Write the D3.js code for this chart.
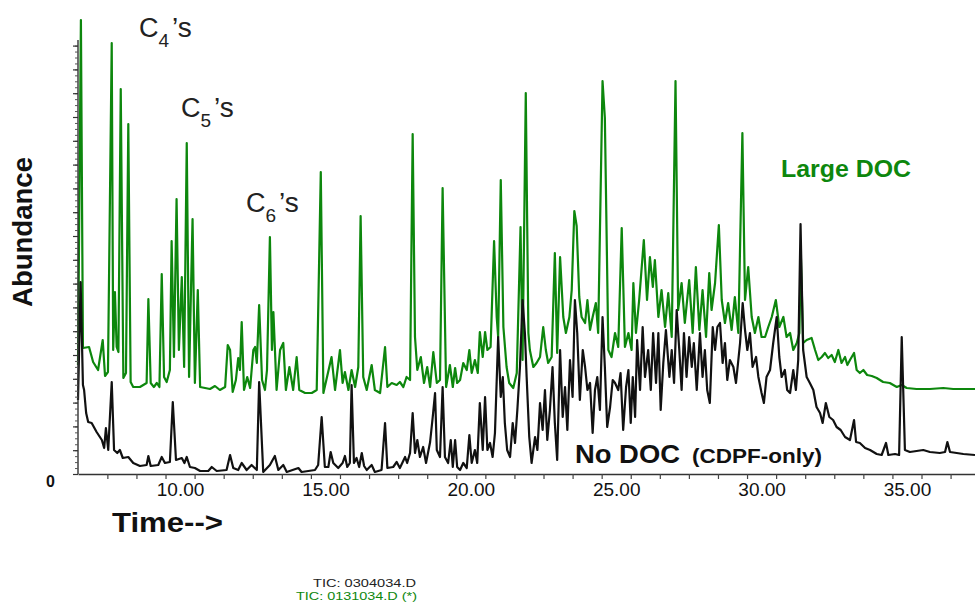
<!DOCTYPE html>
<html>
<head>
<meta charset="utf-8">
<script src="https://cdn.jsdelivr.net/npm/d3@7"></script>
<style>
  body { margin: 0; background: #fff; }
  svg { display: block; font-family: "Liberation Sans", Arial, sans-serif; }
</style>
</head>
<body>
<svg id="chart" width="975" height="604"></svg>
<script>
// [retention time (min), abundance (relative; one big tick on the y axis = 23.8)]
const largeDoc = [
  [6.49,109],[6.59,454],[6.66,126],[6.87,127],[7.01,112],[7.18,104],[7.34,134],[7.42,98],[7.52,102],
  [7.65,431],[7.70,124],[7.76,182],[7.82,127],[7.88,122],[7.96,385],[8.05,96],[8.14,101],[8.22,350],
  [8.30,92],[8.39,87],[8.62,87],[8.85,91],[8.91,175],[8.99,91],[9.10,87],[9.20,91],[9.29,87],[9.37,200],
  [9.45,97],[9.54,92],[9.65,104],[9.71,233],[9.79,117],[9.88,275],[9.96,124],[10.06,197],[10.14,107],
  [10.23,331],[10.31,97],[10.43,255],[10.51,91],[10.61,184],[10.69,87],[11.03,85],[11.20,88],[11.37,84],
  [11.55,87],[11.64,129],[11.72,124],[11.81,82],[11.92,94],[12.00,116],[12.06,104],[12.12,152],[12.20,84],
  [12.31,97],[12.41,86],[12.52,124],[12.58,127],[12.64,111],[12.72,169],[12.82,94],[12.92,84],[12.99,104],
  [13.09,237],[13.16,124],[13.21,162],[13.32,84],[13.44,124],[13.55,131],[13.64,84],[13.76,107],[13.89,84],
  [14.01,117],[14.10,84],[14.30,81],[14.53,81],[14.70,84],[14.84,302],[14.93,81],[15.21,117],[15.33,84],
  [15.50,124],[15.59,91],[15.67,102],[15.79,84],[15.90,104],[16.02,87],[16.13,107],[16.21,258],[16.30,97],
  [16.42,84],[16.59,109],[16.70,84],[16.88,81],[17.05,127],[17.13,87],[17.28,91],[17.45,89],[17.56,92],
  [17.68,87],[17.79,97],[17.91,94],[18.00,340],[18.08,137],[18.16,104],[18.28,117],[18.39,91],[18.50,107],
  [18.60,87],[18.71,122],[18.83,91],[18.94,94],[19.03,286],[19.15,87],[19.28,109],[19.38,87],[19.46,106],
  [19.53,91],[19.63,94],[19.74,111],[19.86,104],[19.95,124],[20.03,101],[20.14,114],[20.24,101],[20.31,142],
  [20.41,117],[20.49,142],[20.57,124],[20.68,127],[20.80,233],[20.89,157],[20.94,137],[21.03,294],[21.12,147],
  [21.23,107],[21.32,91],[21.46,86],[21.58,101],[21.71,247],[21.78,114],[21.89,381],[21.98,141],[22.03,124],
  [22.15,107],[22.26,111],[22.38,117],[22.49,147],[22.58,124],[22.66,111],[22.78,117],[22.89,221],[22.97,121],
  [23.07,217],[23.18,157],[23.27,141],[23.39,157],[23.47,184],[23.56,263],[23.64,248],[23.73,177],[23.81,157],
  [23.93,151],[24.01,174],[24.10,144],[24.19,157],[24.30,171],[24.38,141],[24.53,393],[24.61,356],[24.73,124],
  [24.84,117],[24.96,141],[25.07,127],[25.19,246],[25.30,127],[25.42,141],[25.53,124],[25.59,191],[25.68,141],
  [25.79,174],[25.95,234],[26.06,174],[26.16,217],[26.26,187],[26.33,214],[26.45,157],[26.56,184],[26.68,147],
  [26.79,181],[26.91,137],[27.04,393],[27.13,164],[27.25,191],[27.36,151],[27.51,194],[27.63,141],[27.74,207],
  [27.86,144],[27.97,184],[28.09,137],[28.20,201],[28.28,164],[28.40,191],[28.53,249],[28.63,174],[28.74,151],
  [28.85,171],[28.97,144],[29.08,177],[29.20,141],[29.34,341],[29.43,174],[29.54,207],[29.66,157],[29.77,141],
  [29.89,157],[30.00,137],[30.12,137],[30.23,147],[30.35,157],[30.49,174],[30.61,147],[30.75,157],[30.86,137],
  [30.98,141],[31.09,124],[31.21,131],[31.30,141],[31.35,219],[31.43,131],[31.55,134],[31.72,136],[31.84,124],
  [31.95,114],[32.07,117],[32.18,121],[32.29,116],[32.41,119],[32.52,112],[32.64,124],[32.75,111],[32.87,117],
  [32.95,109],[33.04,114],[33.18,121],[33.27,104],[33.38,101],[33.50,104],[33.63,99],[33.79,98],[33.96,96],
  [34.18,92],[34.41,91],[34.65,87],[34.82,89],[34.99,86],[35.33,85],[35.79,85],[36.25,86],[36.59,85],[37.34,85]
];

const noDoc = [
  [6.49,74],[6.58,192],[6.66,89],[6.70,84],[6.77,61],[6.84,52],[6.96,51],[7.13,42],[7.31,34],[7.39,26],
  [7.45,46],[7.53,24],[7.65,92],[7.73,24],[7.84,21],[7.93,24],[8.03,16],[8.22,17],[8.39,11],[8.62,8],
  [8.85,9],[8.91,18],[8.99,8],[9.25,9],[9.37,17],[9.48,11],[9.65,12],[9.75,72],[9.86,14],[10.06,16],
  [10.15,11],[10.23,17],[10.34,7],[10.51,6],[10.69,3],[10.97,3],[11.09,7],[11.26,3],[11.60,4],[11.72,19],
  [11.83,6],[12.00,4],[12.12,11],[12.29,4],[12.46,9],[12.64,4],[12.72,92],[12.86,2],[13.09,9],[13.26,18],
  [13.38,4],[13.55,9],[13.67,2],[14.07,6],[14.18,2],[14.64,4],[14.75,9],[14.87,57],[14.98,7],[15.10,7],
  [15.18,22],[15.27,11],[15.44,6],[15.59,11],[15.67,18],[15.75,7],[15.84,11],[15.90,89],[15.98,11],[16.07,16],
  [16.16,7],[16.25,21],[16.33,8],[16.42,4],[16.59,9],[16.70,2],[16.93,4],[17.05,51],[17.13,6],[17.33,7],
  [17.45,12],[17.56,6],[17.74,17],[17.81,11],[17.91,21],[18.00,61],[18.08,21],[18.16,34],[18.25,17],[18.36,27],
  [18.46,11],[18.60,32],[18.69,57],[18.77,81],[18.83,24],[18.94,17],[19.03,87],[19.11,17],[19.22,11],[19.31,34],
  [19.38,7],[19.46,34],[19.53,7],[19.63,4],[19.74,11],[19.86,6],[19.95,39],[20.03,11],[20.14,24],[20.22,11],
  [20.31,71],[20.41,24],[20.49,77],[20.57,24],[20.66,31],[20.75,17],[20.83,41],[20.94,137],[21.03,77],[21.10,97],
  [21.17,51],[21.25,24],[21.35,17],[21.44,51],[21.52,31],[21.60,64],[21.69,107],[21.78,174],[21.86,141],[21.92,97],
  [22.01,37],[22.09,11],[22.21,37],[22.29,24],[22.38,71],[22.47,44],[22.55,84],[22.63,34],[22.72,64],[22.81,107],
  [22.89,51],[22.97,14],[23.07,124],[23.16,57],[23.24,87],[23.32,44],[23.41,114],[23.50,77],[23.58,174],[23.66,141],
  [23.75,74],[23.85,124],[23.93,107],[24.01,84],[24.10,91],[24.19,41],[24.27,84],[24.35,97],[24.44,64],[24.53,157],
  [24.61,107],[24.69,47],[24.79,67],[24.88,94],[24.96,91],[25.07,84],[25.15,101],[25.24,44],[25.34,87],[25.42,104],
  [25.50,51],[25.57,97],[25.65,57],[25.72,134],[25.82,84],[25.91,147],[25.99,97],[26.10,124],[26.19,84],[26.27,141],
  [26.37,91],[26.45,141],[26.53,64],[26.62,111],[26.71,144],[26.83,97],[26.91,124],[26.99,91],[27.08,164],[27.17,124],
  [27.25,84],[27.33,141],[27.42,97],[27.51,137],[27.60,107],[27.67,131],[27.77,84],[27.88,141],[27.97,97],[28.05,124],
  [28.13,84],[28.22,71],[28.32,147],[28.40,124],[28.48,147],[28.57,151],[28.66,111],[28.74,131],[28.82,94],[28.91,114],
  [29.03,107],[29.12,91],[29.26,131],[29.35,171],[29.43,144],[29.51,124],[29.60,141],[29.69,107],[29.81,117],[29.89,97],
  [30.00,81],[30.08,71],[30.17,97],[30.29,104],[30.40,131],[30.52,157],[30.61,117],[30.69,97],[30.80,104],[30.88,84],
  [30.98,81],[31.09,104],[31.18,84],[31.26,114],[31.34,250],[31.43,124],[31.55,97],[31.66,91],[31.78,84],[31.89,67],
  [32.01,61],[32.10,51],[32.21,71],[32.33,57],[32.46,54],[32.58,47],[32.72,44],[32.87,37],[33.04,34],[33.18,54],
  [33.25,32],[33.38,31],[33.56,26],[33.73,24],[33.96,20],[34.13,19],[34.28,31],[34.36,19],[34.59,20],[34.73,19],
  [34.82,137],[34.93,24],[35.10,22],[35.33,23],[35.56,24],[35.79,22],[36.13,21],[36.31,22],[36.39,32],[36.48,22],
  [36.71,21],[36.94,20],[37.34,19]
];

const timeLabels = [10, 15, 20, 25, 30, 35];
const timeTicks = d3.range(7.5, 37.01, 1);
const yMajorTicks = d3.range(0, 430, 23.8);
const yMinorTicks = d3.range(0, 434, 5.95);
const fileNames = ["TIC: 0304034.D", "TIC: 0131034.D (*)"];

const green = "#0d870d";
const svg = d3.select("#chart");
svg.append("rect").attr("width", 975).attr("height", 604).attr("fill", "#fff");

const x = d3.scaleLinear().domain([6.49, 37.34]).range([78, 975]);
const y = d3.scaleLinear().domain([0, 460]).range([474, 14]);

const line = d3.line().x(d => x(d[0])).y(d => y(d[1]));

svg.append("path").datum(largeDoc).attr("d", line)
  .attr("fill", "none").attr("stroke", green).attr("stroke-width", 2.2).attr("stroke-linejoin", "round");
svg.append("path").datum(noDoc).attr("d", line)
  .attr("fill", "none").attr("stroke", "#111").attr("stroke-width", 2.2).attr("stroke-linejoin", "round");

// x axis: small ticks every minute, labels on their own
const gx = svg.append("g").attr("transform", "translate(0," + y(0) + ")");
gx.call(d3.axisBottom(x).tickValues(timeTicks).tickSize(5).tickSizeOuter(0).tickFormat(""));
gx.select(".domain").attr("stroke", "#333").attr("stroke-width", 1.6);
gx.selectAll(".tick line").attr("stroke", "#444").attr("stroke-width", 1.2);

const gxl = svg.append("g").attr("transform", "translate(0," + y(0) + ")");
gxl.call(d3.axisBottom(x).tickValues(timeLabels).tickSize(0).tickPadding(9).tickFormat(d3.format(".2f")));
gxl.select(".domain").remove();
gxl.selectAll("text").style("font-size", "19px").style("font-family", "'Liberation Sans', Arial, sans-serif").attr("fill", "#111");

// y axis
const gy = svg.append("g").attr("transform", "translate(" + x.range()[0] + ",0)");
gy.call(d3.axisLeft(y).tickValues(yMinorTicks).tickSize(3).tickSizeOuter(0).tickFormat(""));
gy.select(".domain").attr("d", "M0," + y(0) + "V" + y(434)).attr("stroke", "#333").attr("stroke-width", 1.4);
gy.selectAll(".tick line").attr("stroke", "#555").attr("stroke-width", 1);

const gyM = svg.append("g").attr("transform", "translate(" + x.range()[0] + ",0)");
gyM.call(d3.axisLeft(y).tickValues(yMajorTicks).tickSize(5).tickFormat(""));
gyM.select(".domain").remove();
gyM.selectAll(".tick line").attr("stroke", "#333").attr("stroke-width", 1.2);

const gy0 = svg.append("g").attr("transform", "translate(" + x.range()[0] + ",0)");
gy0.call(d3.axisLeft(y).tickValues([0]).tickSize(0).tickPadding(23));
gy0.select(".domain").remove();
gy0.selectAll("text").attr("dy", "0.75em").style("font-size", "16px").style("font-weight", "bold")
  .style("font-family", "'Liberation Sans', Arial, sans-serif").attr("fill", "#111");

// axis titles
svg.append("text").attr("transform", "translate(32,232) rotate(-90)")
  .attr("text-anchor", "middle").style("font-size", "28px").style("font-weight", "bold").attr("fill", "#111")
  .attr("textLength", 150).attr("lengthAdjust", "spacingAndGlyphs").text("Abundance");
svg.append("text").attr("x", 112).attr("y", 532)
  .style("font-size", "27px").style("font-weight", "bold").attr("fill", "#111")
  .attr("textLength", 111).attr("lengthAdjust", "spacingAndGlyphs").text("Time-->");

// carbon number labels
function carbonLabel(px, py, n) {
  const t = svg.append("text").attr("x", px).attr("y", py).attr("fill", "#222").style("font-size", "27px");
  t.append("tspan").text("C");
  t.append("tspan").attr("dy", 10).style("font-size", "19px").text(n);
  t.append("tspan").attr("x", px + 33).attr("dy", -10).style("font-size", "28px").text("\u2019s");
}
carbonLabel(139, 37, "4");
carbonLabel(181, 117, "5");
carbonLabel(246, 212, "6");

// series labels
svg.append("text").attr("x", 781).attr("y", 177).attr("fill", green)
  .style("font-size", "24px").style("font-weight", "bold")
  .attr("textLength", 130).attr("lengthAdjust", "spacingAndGlyphs").text("Large DOC");
svg.append("text").attr("x", 575).attr("y", 463).attr("fill", "#111")
  .style("font-size", "26px").style("font-weight", "bold")
  .attr("textLength", 105).attr("lengthAdjust", "spacingAndGlyphs").text("No DOC");
svg.append("text").attr("x", 692).attr("y", 463).attr("fill", "#111")
  .style("font-size", "21px").style("font-weight", "bold")
  .attr("textLength", 130).attr("lengthAdjust", "spacingAndGlyphs").text("(CDPF-only)");

// file names under the plot
svg.append("text").attr("x", 416).attr("y", 587).attr("text-anchor", "end").attr("fill", "#222")
  .style("font-size", "11px").attr("textLength", 103).attr("lengthAdjust", "spacingAndGlyphs").text(fileNames[0]);
svg.append("text").attr("x", 417).attr("y", 600).attr("text-anchor", "end").attr("fill", green)
  .style("font-size", "11px").attr("textLength", 121).attr("lengthAdjust", "spacingAndGlyphs").text(fileNames[1]);
</script>
</body>
</html>
